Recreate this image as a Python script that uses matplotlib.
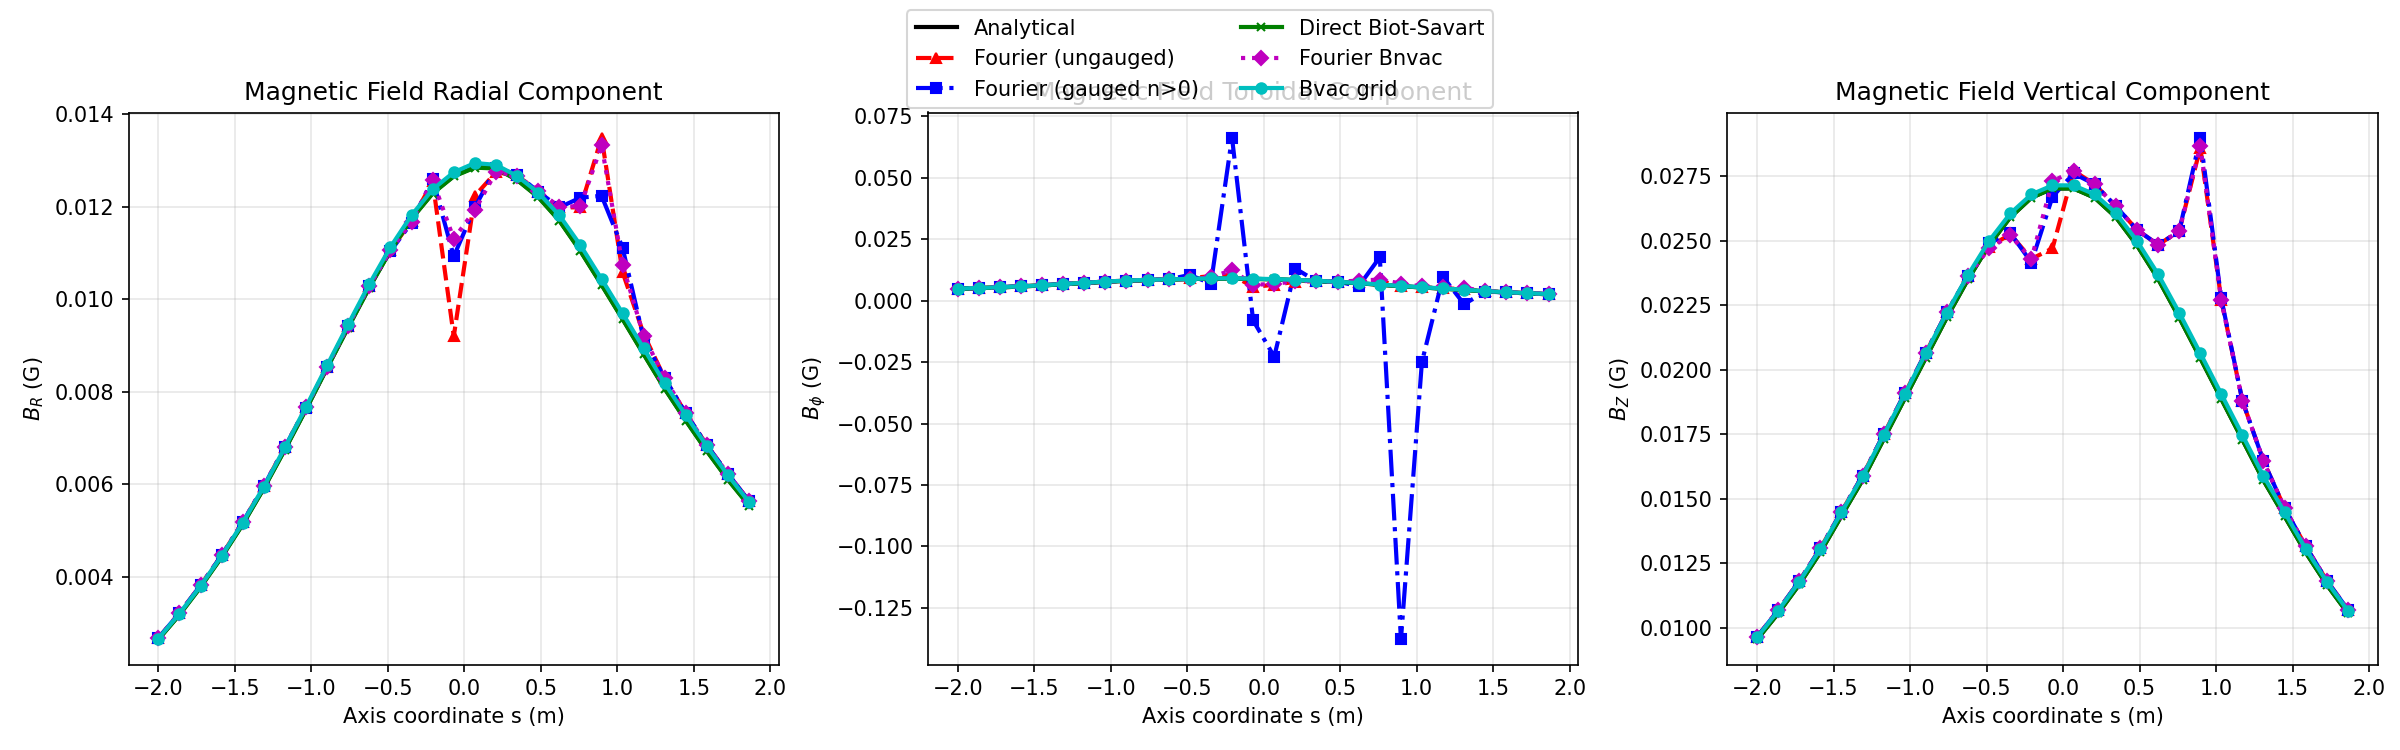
import numpy as np
import matplotlib
matplotlib.use("Agg")
import matplotlib.pyplot as plt

# axis coordinate s (m)
s = [-2.000, -1.862, -1.724, -1.586, -1.448, -1.310, -1.172, -1.034, -0.897, -0.759,
     -0.621, -0.483, -0.345, -0.207, -0.069, 0.069, 0.207, 0.345, 0.483, 0.621,
     0.759, 0.897, 1.034, 1.172, 1.310, 1.448, 1.586, 1.724, 1.862]

# radial component B_R (G)
br_analytical = [0.00264, 0.00318, 0.00378, 0.00443, 0.00514, 0.00592, 0.00676, 0.00763, 0.00852, 0.00940,
                 0.01026, 0.01106, 0.01175, 0.01230, 0.01267, 0.01286, 0.01284, 0.01259, 0.01222, 0.01171,
                 0.01105, 0.01032, 0.00958, 0.00882, 0.00807, 0.00738, 0.00672, 0.00610, 0.00554]
br_ungauged = [0.00267, 0.00321, 0.00381, 0.00446, 0.00518, 0.00596, 0.00681, 0.00766, 0.00854, 0.00943,
               0.01029, 0.01106, 0.01170, 0.01255, 0.00920, 0.01224, 0.01275, 0.01268, 0.01233, 0.01199,
               0.01199, 0.01350, 0.01059, 0.00925, 0.00829, 0.00753, 0.00684, 0.00622, 0.00563]
br_gauged = [0.00267, 0.00321, 0.00381, 0.00446, 0.00518, 0.00596, 0.00681, 0.00765, 0.00853, 0.00942,
             0.01028, 0.01104, 0.01166, 0.01260, 0.01093, 0.01199, 0.01285, 0.01270, 0.01233, 0.01199,
             0.01220, 0.01224, 0.01112, 0.00915, 0.00829, 0.00753, 0.00684, 0.00622, 0.00563]
br_direct = [0.00264, 0.00317, 0.00377, 0.00442, 0.00513, 0.00591, 0.00675, 0.00762, 0.00851, 0.00939,
             0.01025, 0.01105, 0.01174, 0.01229, 0.01266, 0.01285, 0.01283, 0.01258, 0.01221, 0.01170,
             0.01104, 0.01031, 0.00957, 0.00881, 0.00806, 0.00737, 0.00671, 0.00609, 0.00553]
br_bnvac = [0.00267, 0.00321, 0.00381, 0.00446, 0.00518, 0.00596, 0.00681, 0.00766, 0.00854, 0.00943,
            0.01029, 0.01106, 0.01168, 0.01258, 0.01131, 0.01193, 0.01276, 0.01267, 0.01235, 0.01200,
            0.01202, 0.01333, 0.01075, 0.00921, 0.00829, 0.00753, 0.00684, 0.00622, 0.00563]
br_grid = [0.00266, 0.00320, 0.00380, 0.00445, 0.00517, 0.00595, 0.00680, 0.00768, 0.00857, 0.00946,
           0.01033, 0.01113, 0.01182, 0.01238, 0.01275, 0.01295, 0.01291, 0.01267, 0.01231, 0.01182,
           0.01117, 0.01044, 0.00970, 0.00894, 0.00818, 0.00749, 0.00682, 0.00619, 0.00561]

# toroidal component B_phi (G)
bp_analytical = [0.0048, 0.0051, 0.0054, 0.0058, 0.0062, 0.0067, 0.0072, 0.0077, 0.0081, 0.0084,
                 0.0086, 0.0088, 0.0090, 0.0090, 0.0089, 0.0087, 0.0084, 0.0080, 0.0076, 0.0071,
                 0.0065, 0.0059, 0.0054, 0.0049, 0.0044, 0.0038, 0.0034, 0.0030, 0.0026]
bp_ungauged = [0.0049, 0.0052, 0.0055, 0.0059, 0.0063, 0.0068, 0.0073, 0.0078, 0.0082, 0.0085,
               0.0087, 0.0092, 0.0100, 0.0105, 0.0056, 0.0065, 0.0077, 0.0080, 0.0076, 0.0075,
               0.0080, 0.0060, 0.0055, 0.0050, 0.0048, 0.0039, 0.0035, 0.0031, 0.0027]
bp_gauged = [0.0049, 0.0052, 0.0055, 0.0059, 0.0063, 0.0068, 0.0073, 0.0078, 0.0082, 0.0085,
             0.0087, 0.0105, 0.0070, 0.0664, -0.0080, -0.0228, 0.0131, 0.0079, 0.0078, 0.0059,
             0.0177, -0.1379, -0.0250, 0.0097, -0.0014, 0.0037, 0.0034, 0.0030, 0.0027]
bp_direct = [0.0048, 0.0051, 0.0054, 0.0058, 0.0062, 0.0067, 0.0072, 0.0077, 0.0081, 0.0084,
             0.0086, 0.0088, 0.0090, 0.0090, 0.0089, 0.0087, 0.0084, 0.0080, 0.0076, 0.0071,
             0.0065, 0.0059, 0.0054, 0.0049, 0.0044, 0.0038, 0.0034, 0.0030, 0.0026]
bp_bnvac = [0.0049, 0.0052, 0.0055, 0.0059, 0.0063, 0.0068, 0.0073, 0.0078, 0.0082, 0.0085,
            0.0087, 0.0088, 0.0095, 0.0125, 0.0065, 0.0068, 0.0080, 0.0080, 0.0077, 0.0082,
            0.0086, 0.0070, 0.0058, 0.0055, 0.0052, 0.0040, 0.0035, 0.0031, 0.0027]
bp_grid = [0.0049, 0.0052, 0.0055, 0.0059, 0.0063, 0.0068, 0.0073, 0.0078, 0.0082, 0.0085,
           0.0087, 0.0089, 0.0091, 0.0091, 0.0090, 0.0088, 0.0085, 0.0081, 0.0077, 0.0072,
           0.0066, 0.0060, 0.0055, 0.0050, 0.0045, 0.0039, 0.0035, 0.0031, 0.0027]

# vertical component B_Z (G)
bz_analytical = [0.00955, 0.01056, 0.01168, 0.01293, 0.01434, 0.01573, 0.01731, 0.01889, 0.02046, 0.02203,
                 0.02350, 0.02483, 0.02590, 0.02666, 0.02702, 0.02702, 0.02666, 0.02591, 0.02482, 0.02352,
                 0.02202, 0.02045, 0.01887, 0.01729, 0.01571, 0.01432, 0.01292, 0.01167, 0.01056]
bz_ungauged = [0.00965, 0.01068, 0.01181, 0.01308, 0.01450, 0.01590, 0.01750, 0.01908, 0.02066, 0.02222,
               0.02363, 0.02475, 0.02525, 0.02429, 0.02470, 0.02770, 0.02718, 0.02633, 0.02542, 0.02484,
               0.02536, 0.02860, 0.02270, 0.01880, 0.01646, 0.01464, 0.01316, 0.01183, 0.01070]
bz_gauged = [0.00965, 0.01068, 0.01181, 0.01308, 0.01450, 0.01590, 0.01750, 0.01908, 0.02066, 0.02222,
             0.02363, 0.02490, 0.02530, 0.02415, 0.02670, 0.02760, 0.02718, 0.02633, 0.02542, 0.02484,
             0.02536, 0.02899, 0.02276, 0.01880, 0.01646, 0.01464, 0.01316, 0.01183, 0.01070]
bz_direct = [0.00955, 0.01056, 0.01168, 0.01293, 0.01434, 0.01573, 0.01731, 0.01889, 0.02046, 0.02203,
             0.02350, 0.02483, 0.02590, 0.02666, 0.02702, 0.02702, 0.02666, 0.02591, 0.02482, 0.02352,
             0.02202, 0.02045, 0.01887, 0.01729, 0.01571, 0.01432, 0.01292, 0.01167, 0.01056]
bz_bnvac = [0.00965, 0.01068, 0.01181, 0.01308, 0.01450, 0.01590, 0.01750, 0.01908, 0.02066, 0.02222,
            0.02363, 0.02470, 0.02520, 0.02429, 0.02730, 0.02770, 0.02718, 0.02633, 0.02542, 0.02484,
            0.02536, 0.02867, 0.02270, 0.01880, 0.01646, 0.01464, 0.01316, 0.01183, 0.01070]
bz_grid = [0.00963, 0.01066, 0.01179, 0.01306, 0.01448, 0.01588, 0.01748, 0.01906, 0.02064, 0.02221,
           0.02367, 0.02499, 0.02605, 0.02679, 0.02714, 0.02714, 0.02679, 0.02607, 0.02499, 0.02370,
           0.02221, 0.02064, 0.01906, 0.01747, 0.01588, 0.01448, 0.01306, 0.01179, 0.01066]

panels = [
    ("Magnetic Field Radial Component", r"$B_R$ (G)",
     [br_analytical, br_ungauged, br_gauged, br_direct, br_bnvac, br_grid]),
    ("Magnetic Field Toroidal Component", r"$B_\phi$ (G)",
     [bp_analytical, bp_ungauged, bp_gauged, bp_direct, bp_bnvac, bp_grid]),
    ("Magnetic Field Vertical Component", r"$B_Z$ (G)",
     [bz_analytical, bz_ungauged, bz_gauged, bz_direct, bz_bnvac, bz_grid]),
]

labels = ["Analytical", "Fourier (ungauged)", "Fourier (gauged n>0)",
          "Direct Biot-Savart", "Fourier Bnvac", "Bvac grid"]
styles = [
    dict(color="k", linestyle="-", linewidth=2),
    dict(color="r", linestyle="--", marker="^", markersize=5, linewidth=2),
    dict(color="b", linestyle="-.", marker="s", markersize=5, linewidth=2),
    dict(color="g", linestyle="-", marker="x", markersize=4, linewidth=2),
    dict(color="m", linestyle=":", marker="D", markersize=5, linewidth=2),
    dict(color="c", linestyle="-", marker="o", markersize=5, linewidth=2),
]

fig, axes = plt.subplots(1, 3, figsize=(16, 5), dpi=150)

for ax, (title, ylabel, series) in zip(axes, panels):
    for vals, lab, st in zip(series, labels, styles):
        ax.plot(s, vals, label=lab, **st)
    ax.set_title(title, fontsize=12)
    ax.set_xlabel("Axis coordinate s (m)")
    ax.set_ylabel(ylabel)
    ax.grid(True, alpha=0.3)

plt.tight_layout()
fig.subplots_adjust(top=0.85)

handles, labs = axes[0].get_legend_handles_labels()
fig.legend(handles, labs, loc="upper center", ncol=2, fontsize=10)

fig.savefig("out.png", dpi=150)
